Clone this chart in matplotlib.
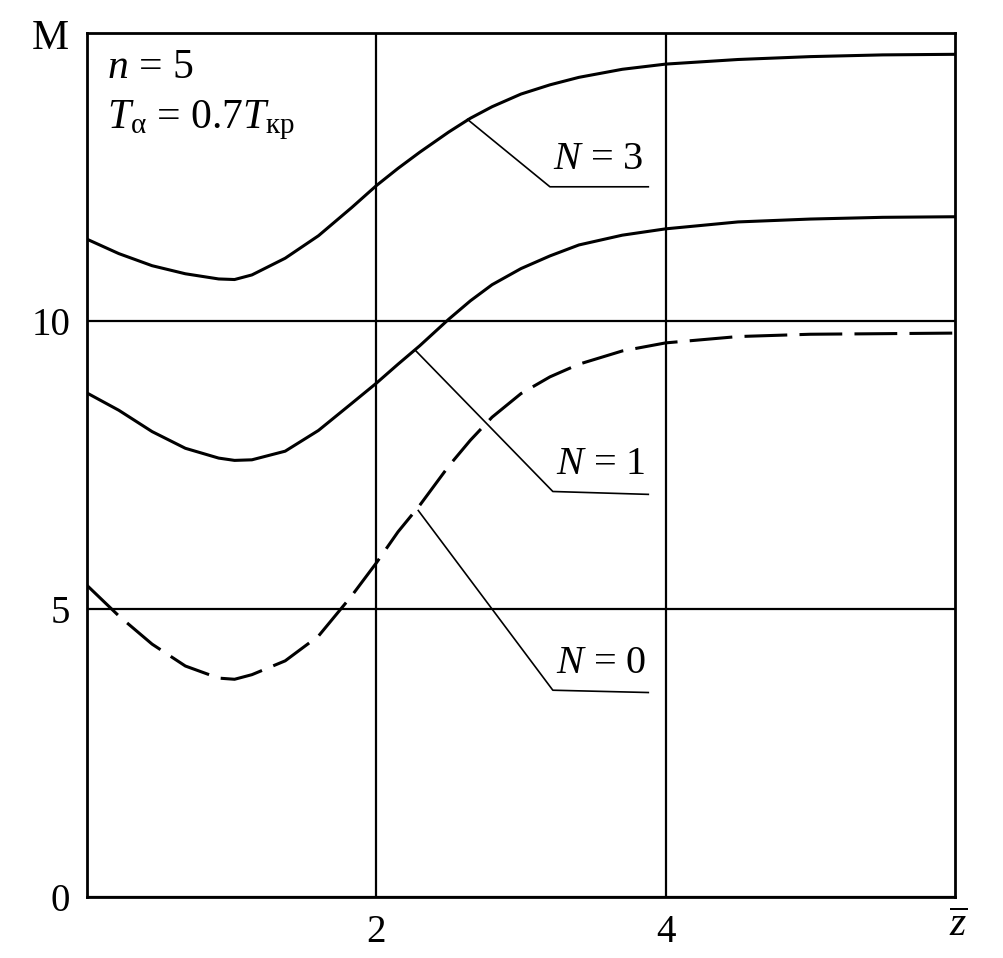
import numpy as np
import matplotlib
matplotlib.use("Agg")
import matplotlib.pyplot as plt

# curves M(z)
z = [0, 0.22, 0.45, 0.68, 0.91, 1.02, 1.14, 1.37, 1.6, 1.83, 2.0, 2.15, 2.3, 2.5, 2.65,
     2.8, 3.0, 3.2, 3.4, 3.7, 4.0, 4.5, 5.0, 5.5, 6.0]
m_n3 = [11.42, 11.17, 10.96, 10.82, 10.73, 10.72, 10.80, 11.09, 11.48, 11.97, 12.35, 12.65, 12.93,
        13.28, 13.52, 13.72, 13.94, 14.10, 14.23, 14.37, 14.46, 14.54, 14.59, 14.62, 14.63]
m_n1 = [8.75, 8.45, 8.08, 7.79, 7.62, 7.58, 7.59, 7.74, 8.10, 8.57, 8.92, 9.25, 9.57,
        10.03, 10.35, 10.63, 10.91, 11.13, 11.32, 11.49, 11.60, 11.72, 11.77, 11.80, 11.81]
m_n0 = [5.41, 4.88, 4.39, 4.01, 3.80, 3.78, 3.86, 4.10, 4.53, 5.23, 5.80, 6.34, 6.80,
        7.48, 7.93, 8.33, 8.74, 9.03, 9.25, 9.48, 9.62, 9.73, 9.77, 9.78, 9.79]

x_ticks = [2, 4]
y_ticks = [0, 5, 10]
labels = ["3", "1", "0"]

plt.rcParams['font.family'] = 'Liberation Serif'
plt.rcParams['mathtext.fontset'] = 'custom'
plt.rcParams['mathtext.rm'] = 'Liberation Serif'
plt.rcParams['mathtext.it'] = 'Liberation Serif:italic'

fig = plt.figure(figsize=(10.04, 9.58), dpi=100)
ax = fig.add_axes([87 / 1004, 1 - 897 / 958, 868 / 1004, 864 / 958])

ax.plot(z, m_n3, color='black', lw=2.2, solid_joinstyle='round')
ax.plot(z, m_n1, color='black', lw=2.2, solid_joinstyle='round')
ax.plot(z, m_n0, color='black', lw=2.2, dashes=(14, 4), dash_joinstyle='round')

# leader lines to the labels: curve point, elbow, end
leaders = [
    [(2.63, 13.50), (3.20, 12.33), (3.88, 12.33)],
    [(2.27, 9.49), (3.22, 7.04), (3.88, 6.99)],
    [(2.29, 6.71), (3.22, 3.59), (3.88, 3.55)],
]
for pts, lab in zip(leaders, labels):
    xs = [p[0] for p in pts]
    ys = [p[1] for p in pts]
    ax.plot(xs, ys, color='black', lw=1.2)
    ax.text(xs[1] + 0.02, ys[1] + 0.15, "$N$ = " + lab, fontsize=29,
            ha='left', va='bottom')

ax.set_xlim(0, 6)
ax.set_ylim(0, 15)
ax.set_xticks(x_ticks)
ax.set_yticks(y_ticks)
ax.tick_params(length=0, labelsize=28, pad=12)
ax.grid(True, color='black', lw=1.6)
for s in ax.spines.values():
    s.set_linewidth(2.0)

ax.text(0.023, 0.948, "$n$ = 5", transform=ax.transAxes, fontsize=30, va='baseline')
ax.text(0.023, 0.890, r"$T_{\mathrm{α}}$ = 0.7$T_{\mathrm{кр}}$", transform=ax.transAxes,
        fontsize=30, va='baseline')

fig.text(50 / 1004, 1 - 39 / 958, "М", fontsize=30, ha='center', va='center')
fig.text(958 / 1004, 1 - 925 / 958, r"$\overline{z}$", fontsize=30, ha='center', va='center')

plt.savefig('out.png', dpi=100)
